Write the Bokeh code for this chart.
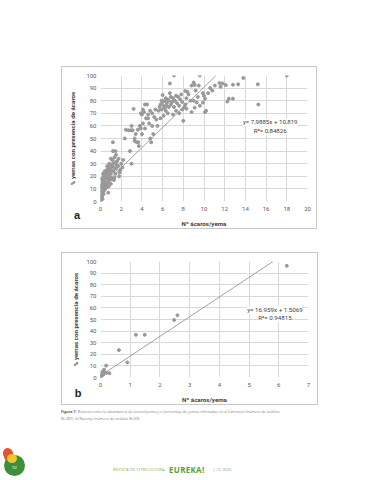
from bokeh.plotting import figure
from bokeh.models import Label, Div, FixedTicker
from bokeh.layouts import column
from bokeh.embed import file_html
from bokeh.resources import INLINE

# ---------------- data: chart a (Limonero) ----------------
a_x = [0, 0.05, 0.1, 0.05, 0.15, 0.1, 0.2, 0.05, 0.25, 0.15, 0.3, 0.2, 0.35, 0.1, 0.4, 0.3, 0.45, 0.25, 0.5, 0.15,
       0.3, 0.35, 0.4, 0.45, 0.2, 0.5, 0.4, 0.02, 0.12, 0.28,
       0.55, 0.6, 0.65, 0.7, 0.75, 0.8, 0.85, 0.9, 0.95, 0.6, 0.7, 0.75, 0.8, 0.9, 1.0, 0.55, 0.65, 0.85, 1.0, 0.95,
       1.05, 1.1, 1.15, 1.2, 1.25, 1.3, 1.35, 1.4, 1.45, 1.5, 1.55, 1.2, 1.45, 1.2, 1.5, 1.1, 1.35, 1.6, 1.3, 1.0,
       1.7, 1.8, 1.9, 2.0, 2.1, 1.75, 1.85, 2.35, 2.45, 2.2,
       2.7, 2.95, 3.1, 2.85, 3.0, 3.2, 3.3, 3.4, 3.5, 3.65, 3.7, 3.6, 3.8, 3.9, 4.0, 4.1, 3.9, 4.0, 3.0, 3.3,
       4.3, 4.5, 4.2, 4.4, 4.6, 4.1, 4.7, 5.0, 4.3, 4.8, 4.9, 5.1, 5.2, 5.4, 4.6, 5.0, 5.3, 4.8,
       5.6, 5.7, 5.8, 5.9, 6.0, 6.0, 6.1, 6.2, 6.3, 6.4, 6.5, 6.6, 6.7, 6.8, 6.9, 6.3, 6.5, 6.1, 5.8, 6.7,
       7.1, 5.5, 6.2, 6.6, 6.4, 5.9, 6.8,
       7.0, 7.2, 7.3, 7.4, 7.5, 7.6, 7.7, 7.8, 7.9, 8.0, 7.1, 7.3, 7.6, 7.9, 8.2, 8.3, 8.4, 7.0,
       8.8, 9.0, 9.1, 9.6, 8.2, 8.5, 9.0, 9.4, 9.3, 9.6, 9.9, 10.2, 8.1, 8.3, 9.1, 8.8, 9.9, 10.1, 9.5, 10.0,
       10.1, 8.7, 9.2,
       10.4, 10.8, 10.6, 11.05, 11.5, 11.8, 12.1, 12.8, 13.3, 12.25, 12.4, 12.8, 11.6,
       13.8, 15.2, 15.25, 18.0]
a_y = [0, 3, 5, 7, 8, 10, 11, 12, 13, 15, 14, 17, 16, 18, 18, 20, 21, 22, 23, 4,
       6, 9, 12, 10, 2, 15, 24, 1, 13, 8,
       20, 25, 18, 22, 27, 24, 20, 26, 29, 13, 15, 7, 12, 17, 22, 11, 28, 30, 14, 19,
       25, 28, 33, 30, 24, 27, 35, 31, 22, 26, 29, 40, 40, 47, 37, 18, 19, 32, 17, 34,
       28, 20, 25, 30, 27, 34, 23, 50, 57, 33,
       56.5, 56.5, 56.5, 40, 30, 73.5, 50, 53.5, 47, 47, 44, 57, 60, 58, 69, 73, 70, 53.5, 60, 48,
       77, 77, 71, 66, 66, 62, 62, 60, 58, 50, 47, 53.5, 67, 65, 69, 70, 73, 72,
       72, 75, 77, 73, 84.5, 79, 76, 80, 82, 78, 81, 75, 93.7, 83, 79, 72, 70, 68, 66, 86,
       100, 60, 74, 80, 76, 80, 77,
       82, 80, 84, 78, 83, 76, 81, 85, 79, 64, 75, 72, 70, 73, 77, 82, 87, 69,
       92, 94.5, 92.5, 100, 87.7, 85, 80, 83, 78.5, 76, 78.5, 72, 75, 73.7, 74.5, 71, 86, 81.6, 92, 84,
       71, 80, 88,
       86, 88, 90, 92, 94, 93.7, 92.4, 92.7, 93, 79.3, 81.6, 81.6, 91,
       98, 93, 77, 100]
a_slope, a_intercept = 7.9885, 10.819
a_eq = ["y= 7,9885x + 10,819", "R²= 0,84826"]
a_xticks = [0, 2, 4, 6, 8, 10, 12, 14, 16, 18, 20]

# ---------------- data: chart b (Naranjo) ----------------
b_x = [0, 0.0, 0.02, 0.04, 0.05, 0.08, 0.1, 0.13, 0.2, 0.3, 0.12, 0.06, 0.19, 0.62, 0.9, 1.19, 1.49, 2.48, 2.59, 6.27]
b_y = [0, 0.5, 1, 3, 2, 4, 2.5, 4, 4, 3.7, 6.8, 5, 10.3, 23.6, 13, 36.8, 36.8, 49.6, 53.6, 96.3]
b_slope, b_intercept = 16.959, 1.5069
b_eq = ["y= 16.959x + 1.5069", "R²= 0.94815"]
b_xticks = [0, 1, 2, 3, 4, 5, 6, 7]

y_ticks = [0, 10, 20, 30, 40, 50, 60, 70, 80, 90, 100]
y_title = "% yemas con presencia de ácaros"
x_title = "Nº ácaros/yema"

FONT = "Roboto"
GRID = "#d9d9d9"
PT = "#999999"


def make_chart(xs, ys, xmax, xticks, slope, intercept, eq, eq_x, eq_y1, eq_y2,
               width, height, bl, br, bt, bb, margin, ylab_standoff):
    p = figure(width=width, height=height, x_range=(0, xmax), y_range=(0, 100),
               output_backend="svg", toolbar_location=None,
               min_border_left=bl, min_border_right=br, min_border_top=bt, min_border_bottom=bb,
               margin=margin, styles={"border": "1px solid #c8c8c8"})
    p.outline_line_color = None
    p.background_fill_color = "white"
    p.border_fill_color = "white"
    p.xaxis.ticker = FixedTicker(ticks=xticks)
    p.yaxis.ticker = FixedTicker(ticks=y_ticks)
    for ax in (p.xaxis[0], p.yaxis[0]):
        ax.axis_line_color = None
        ax.major_tick_line_color = None
        ax.minor_tick_line_color = None
        ax.major_tick_out = 0
        ax.major_tick_in = 0
        ax.major_label_text_font = FONT
        ax.major_label_text_font_size = "6px"
        ax.major_label_text_color = "#595959"
        ax.axis_label_text_font = FONT
        ax.axis_label_text_font_size = "6.2px"
        ax.axis_label_text_font_style = "bold"
        ax.axis_label_text_color = "#404040"
    p.xaxis.major_label_standoff = 5
    p.yaxis.major_label_standoff = 4
    p.xaxis.axis_label = x_title
    p.yaxis.axis_label = y_title
    p.xaxis.axis_label_standoff = 6
    p.yaxis.axis_label_standoff = ylab_standoff
    p.xgrid.ticker = FixedTicker(ticks=xticks)
    p.ygrid.ticker = FixedTicker(ticks=y_ticks)
    p.xgrid.grid_line_color = GRID
    p.ygrid.grid_line_color = GRID

    x_end = (100 - intercept) / slope
    p.line([0, x_end], [intercept, 100], line_color="#8a8a8a", line_width=0.8)
    p.scatter(xs, ys, size=3.0, fill_color=PT, line_color=PT)

    for txt, yy in ((eq[0], eq_y1), (eq[1], eq_y2)):
        p.add_layout(Label(x=eq_x, y=yy, text=txt, text_align="center", text_baseline="middle",
                           text_font=FONT, text_font_size="6.2px", text_color="#404040",
                           background_fill_color="white"))
    return p


pa = make_chart(a_x, a_y, 20, a_xticks, a_slope, a_intercept, a_eq, 16.4, 63, 56,
                256, 163, 38, 11, 8, 28, (66, 0, 0, 61), 6)
pb = make_chart(b_x, b_y, 7, b_xticks, b_slope, b_intercept, b_eq, 5.87, 58, 51.5,
                257, 153, 34, 8, 8, 28, (23, 0, 0, 61), 3)

foot_html = """
<div style="position:relative;width:360px;height:67px;font-family:'Open Sans',sans-serif;">
  <div style="position:absolute;left:71px;top:-197px;width:12px;text-align:center;font-family:'Liberation Sans',sans-serif;font-size:11px;font-weight:bold;color:#222;z-index:10;">a</div>
  <div style="position:absolute;left:72px;top:-19px;width:12px;text-align:center;font-family:'Liberation Sans',sans-serif;font-size:11px;font-weight:bold;color:#222;z-index:10;">b</div>
  <div style="position:absolute;left:61px;top:4px;width:262px;font-size:3.7px;line-height:6.5px;color:#808080;white-space:nowrap;">
    <b style="color:#5a5a5a;">Figura 7.</b> Relación entre la abundancia de ácaros/yema y el porcentaje de yemas infestadas en a) Limonero (número de análisis<br>N=287), b) Naranjo (número de análisis N=39).
  </div>
  <div style="position:absolute;left:4px;top:50px;width:21px;height:21px;border-radius:50%;background:#3d8f3a;"></div>
  <div style="position:absolute;left:3px;top:43px;width:10px;height:11px;border-radius:50% 50% 50% 10%;background:#e4532c;transform:rotate(-20deg);"></div>
  <div style="position:absolute;left:7px;top:49px;width:10px;height:9px;border-radius:50%;background:#f2c531;"></div>
  <div style="position:absolute;left:4px;top:60px;width:21px;text-align:center;font-size:4px;color:#ffffff;">92</div>
  <div style="position:absolute;left:113px;top:62px;font-size:3.8px;color:#7aa85a;white-space:nowrap;letter-spacing:0.2px;">REVISTA DE CITRICULTURA</div>
  <div style="position:absolute;left:169px;top:59px;font-size:8px;font-weight:bold;color:#5aa02c;white-space:nowrap;letter-spacing:0.3px;">EUREKA!</div>
  <div style="position:absolute;left:213px;top:62px;font-size:3.8px;color:#7aa85a;white-space:nowrap;">| 13. 2020.</div>
</div>
"""
foot = Div(text=foot_html, width=360, height=67, margin=(0, 0, 0, 0), styles={"overflow": "visible"})

layout = column(pa, pb, foot, spacing=0)
open("out.html", "w").write(file_html(layout, INLINE))
